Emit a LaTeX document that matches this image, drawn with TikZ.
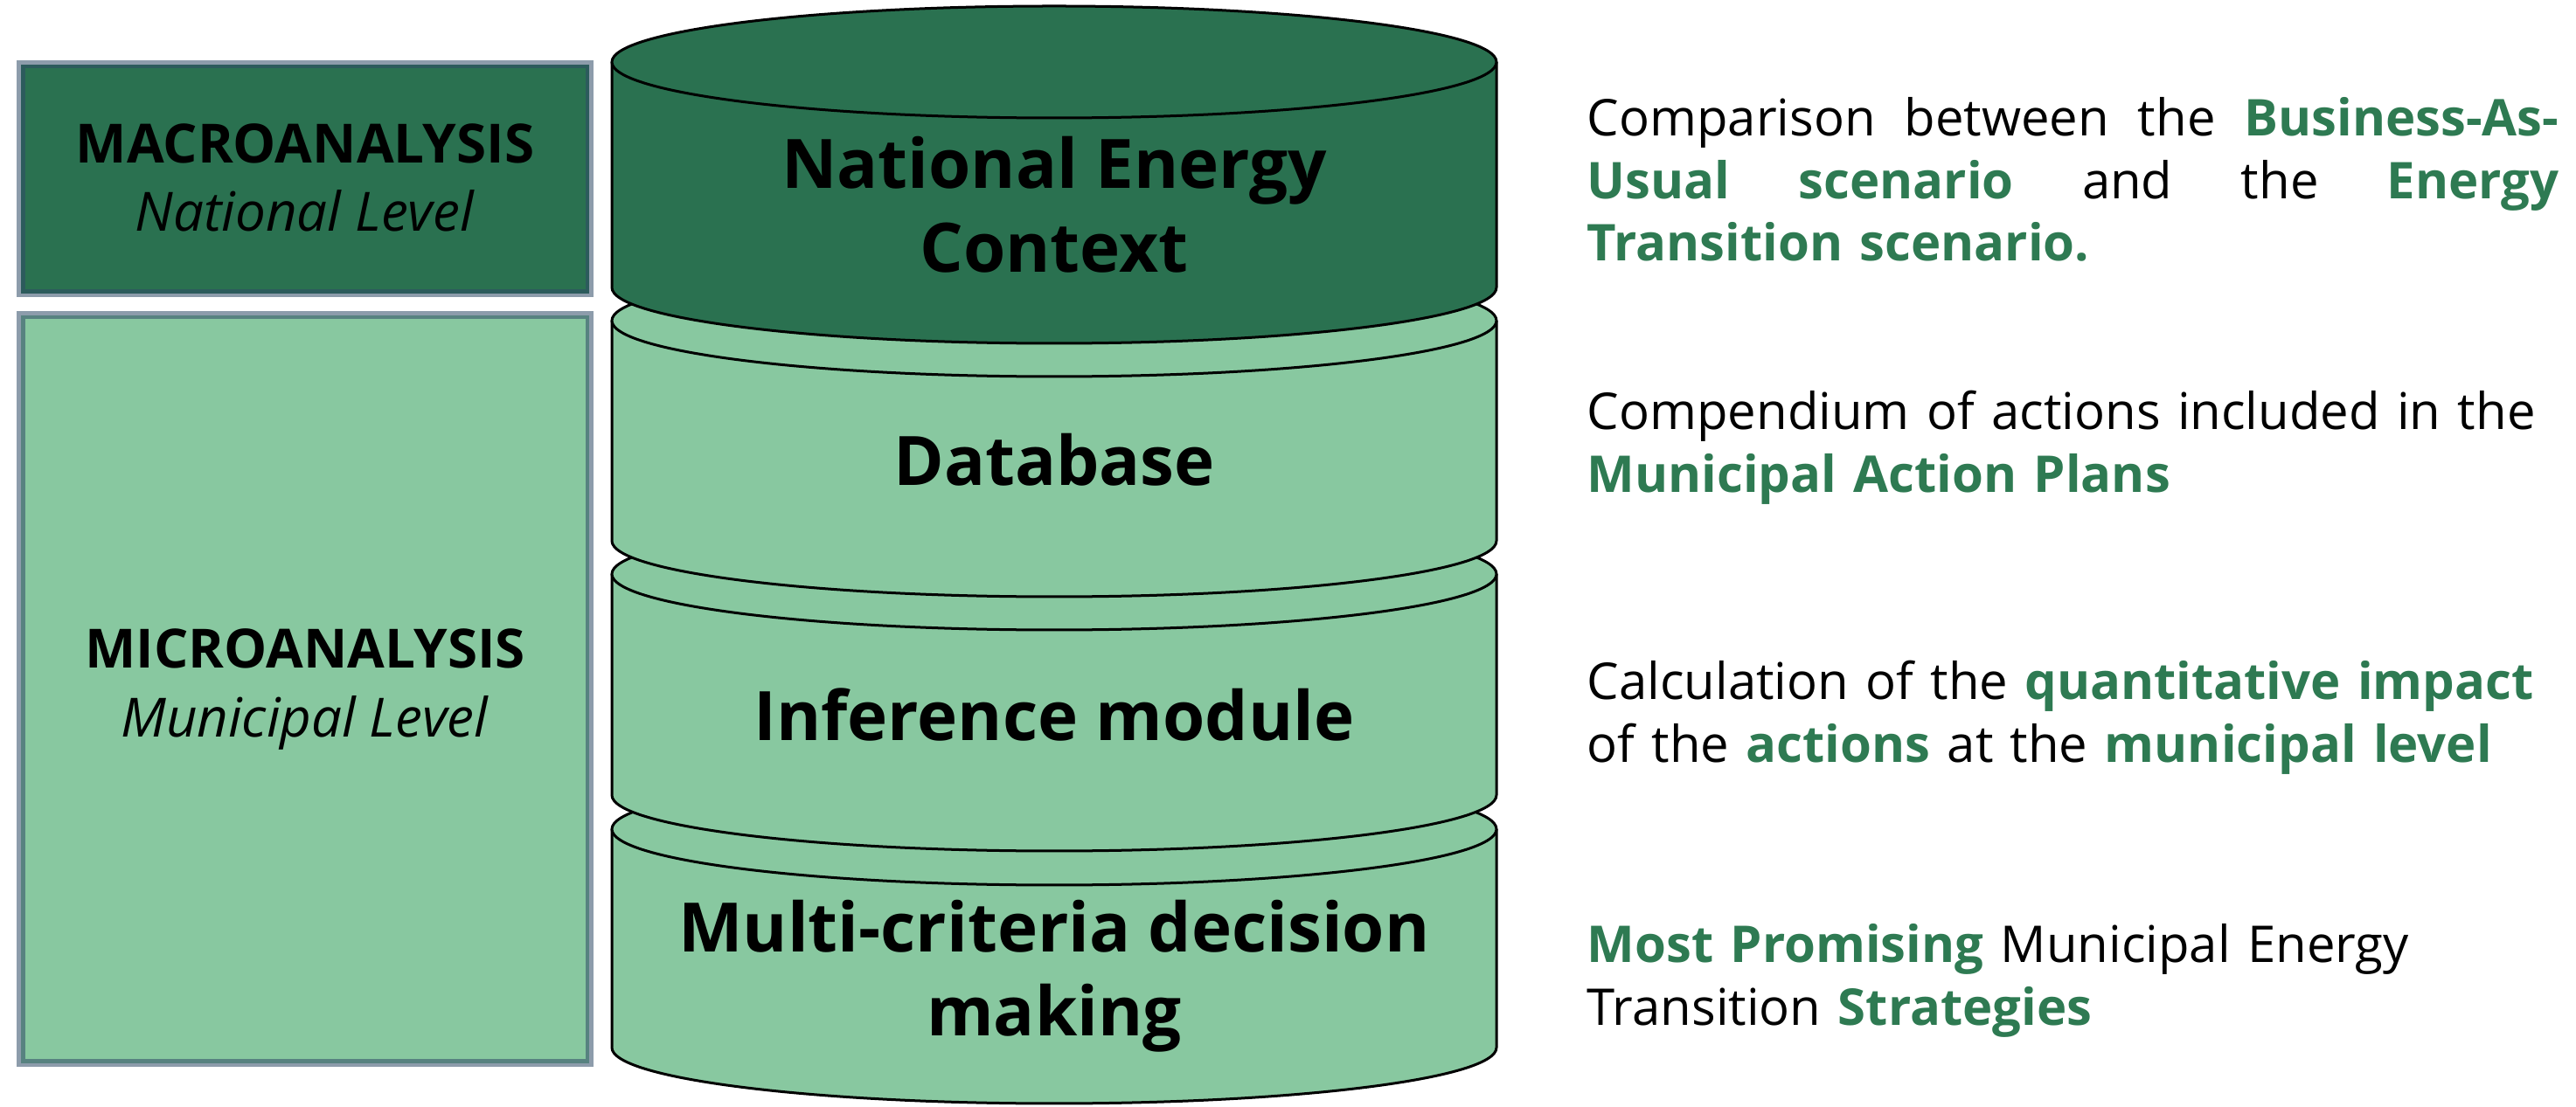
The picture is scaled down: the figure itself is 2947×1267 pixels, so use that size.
\documentclass[tikz,border=0pt]{standalone}
\usepackage{fontspec}
\setmainfont{Open Sans}
\definecolor{dkgreen}{HTML}{2A7150}
\definecolor{ltgreen}{HTML}{88C8A0}
\definecolor{txtgreen}{HTML}{2E7A52}
\definecolor{slate}{HTML}{2F4A66}
\newcommand{\gb}[1]{\textbf{\color{txtgreen}#1}}
\newcommand{\cylseg}[3]{%
  \filldraw[fill=#3, cylline] (700,#1) -- (700,#2)
     arc[start angle=180, end angle=360, x radius=506, y radius=64] -- (1712,#1);
  \filldraw[fill=#3, cylline] (1206,#1) ellipse[x radius=506, y radius=64];
}
\tikzset{
  levelbox/.style={draw=slate, draw opacity=0.55, line width=0.09cm},
  cylline/.style={draw=black, line width=0.03cm},
  cyllabel/.style={font=\fontsize{22.2}{27.3}\selectfont\bfseries, align=center, text=black, inner sep=0pt},
  levellabel/.style={font=\fontsize{17.6}{22.2}\selectfont, align=center, text=black, inner sep=0pt},
  desc/.style={font=\fontsize{16.5}{20.2}\selectfont, text width=11.11cm, align=left, anchor=base west, inner sep=0pt, text=black},
}
\begin{document}
\begin{tikzpicture}[x=0.01cm, y=0.01cm]
\useasboundingbox (0,0) rectangle (2947,1267);
% left boxes
\filldraw[fill=dkgreen, levelbox] (24,1193) rectangle (674,931);
\filldraw[fill=ltgreen, levelbox] (24,906) rectangle (674,50);
% cylinder (bottom to top)
\cylseg{318}{68}{ltgreen}
\cylseg{610}{357}{ltgreen}
\cylseg{900}{648}{ltgreen}
\cylseg{1196}{938}{dkgreen}
% cylinder labels
\node[cyllabel] (nec) at (1206,1033) {National Energy\\Context};
\node[cyllabel] (db) at (1206,741) {Database};
\node[cyllabel] (inf) at (1206,449) {Inference module};
\node[cyllabel] (mcdm) at (1206,150) {Multi-criteria decision\\making};
% level labels
\node[levellabel] (macro) at (349,1064) {\textbf{MACROANALYSIS}\\\textit{National Level}};
\node[levellabel] (micro) at (349,478) {\textbf{MICROANALYSIS}\\\textit{Municipal Level}};
% descriptions
\node[desc] (d1) at (1815,1111) {\makebox[11.11cm][l]{Comparison\hfill between\hfill the\hfill \gb{Business-As-}}\\
\makebox[11.11cm][l]{\gb{Usual}\hfill\gb{scenario}\hfill and\hfill the\hfill\gb{Energy}}\\
\gb{Transition scenario.}};
\node[desc] (d2) at (1815,775) {Compendium of actions included in the\\\gb{Municipal Action Plans}};
\node[desc] (d3) at (1815,466) {Calculation of the \gb{quantitative impact}\\of the \gb{actions} at the \gb{municipal level}};
\node[desc] (d4) at (1815,165) {\gb{Most Promising} Municipal Energy\\Transition \gb{Strategies}};
\end{tikzpicture}
\end{document}
